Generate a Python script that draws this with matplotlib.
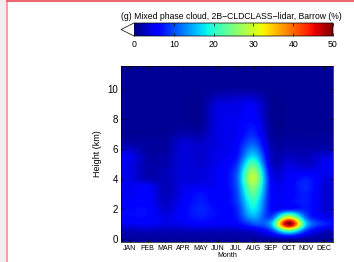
import numpy as np
import matplotlib
matplotlib.use("Agg")
import matplotlib.pyplot as plt
from matplotlib.patches import Rectangle
from matplotlib.lines import Line2D

plt.rcParams['font.family'] = ['Liberation Sans', 'DejaVu Sans']

months = ['JAN', 'FEB', 'MAR', 'APR', 'MAY', 'JUN',
          'JUL', 'AUG', 'SEP', 'OCT', 'NOV', 'DEC']
# height levels 0 .. 11.5 km, 0.5 km step
heights = np.arange(0, 12, 0.5)

# mixed phase cloud occurrence (%) per month, one value per height level
jan = [1.5, 2.5, 5, 6.5, 6.5, 5.5, 5, 5, 4.5, 4.5, 4.5, 5, 3, 1.5, 1, 1, 1, 1, 1, 1, 1, 1, 1, 1]
feb = [1.5, 2.5, 5.5, 6.5, 6.5, 6, 6, 5.5, 2.5, 2, 2, 2, 1.5, 1.5, 1, 1, 1, 1, 1, 1, 1, 1, 1, 1]
mar = [1.5, 2.5, 4.5, 4.5, 3.5, 3, 2.5, 2.5, 2.5, 2.5, 2, 2, 1.5, 1.5, 1, 1, 1, 1, 1, 1, 1, 1, 1, 1]
apr = [1.5, 2.5, 5, 6, 6, 5.5, 5, 4.5, 4, 4, 4, 4, 4, 3.5, 2, 1.2, 1, 1, 1, 1, 1, 1, 1, 1]
may = [1.5, 2.5, 6, 7.5, 8, 7.5, 7, 5, 4, 4, 3.5, 3.5, 3.5, 3, 2, 1.2, 1, 1, 1, 1, 1, 1, 1, 1]
jun = [1.5, 2.5, 5.5, 6.5, 6.5, 6, 5.5, 5.5, 5.5, 5.5, 5, 5, 4.5, 4.5, 4.5, 4.5, 4.5, 4.5, 4, 2.5, 1.2, 1, 1, 1]
jul = [1.5, 2.5, 6, 7, 7.5, 8.5, 9, 9.5, 10, 9.5, 8, 6.5, 6, 5.5, 5, 5, 5, 4.5, 4.5, 3, 1.3, 1, 1, 1]
aug = [1.5, 3.5, 10, 15, 18, 20, 23, 26, 29, 27, 22, 17, 13, 10, 8, 7, 6, 5.5, 5, 3, 1.3, 1, 1, 1]
sep = [1.5, 8, 15, 9, 6.5, 6.5, 6.5, 6.5, 6, 5, 3.5, 3, 2.5, 2, 1.5, 1.2, 1, 1, 1, 1, 1, 1, 1, 1]
octo = [2, 20, 50, 28, 7, 6.5, 6, 6, 5.5, 5, 4, 3, 2, 1.5, 1.2, 1, 1, 1, 1, 1, 1, 1, 1, 1]
nov = [1.5, 8, 16, 10, 7.5, 7.5, 7.5, 8, 7.5, 5, 3, 2.5, 2, 1.5, 1.2, 1, 1, 1, 1, 1, 1, 1, 1, 1]
dec = [1.5, 3, 8, 5, 4, 4, 4, 4, 4.5, 5, 5, 4, 2, 1.5, 1.2, 1, 1, 1, 1, 1, 1, 1, 1, 1]

data = np.array([jan, feb, mar, apr, may, jun, jul, aug, sep, octo, nov, dec]).T

cmap = plt.get_cmap('jet').copy()
cmap.set_under('white')

fig = plt.figure(figsize=(3.54, 2.62), dpi=100)

# screenshot frame bits
fig.add_artist(Rectangle((0, 0), 6 / 354, 1, transform=fig.transFigure,
                         facecolor='#efefef', edgecolor='none'))
fig.add_artist(Line2D([6.5 / 354, 6.5 / 354], [0, 1], transform=fig.transFigure,
                      color='#f4a0a4', lw=1.5))
fig.add_artist(Line2D([6.5 / 354, 1], [1 - 0.8 / 262, 1 - 0.8 / 262],
                      transform=fig.transFigure, color='#ee6670', lw=1.5))

ax = fig.add_axes([121 / 354, 20 / 262, 212 / 354, 176 / 262])
im = ax.imshow(np.clip(data, 0.01, None), origin='lower', aspect='auto', cmap=cmap,
               vmin=0, vmax=50,
               extent=(0.5, 12.5, heights[0] - 0.25, heights[-1] + 0.25),
               interpolation='catrom', interpolation_stage='data')
ax.set_xlim(0.5, 12.5)
ax.set_ylim(-0.2, 11.5)
ax.set_xticks(np.arange(1, 13))
ax.set_xticklabels(months, fontsize=5)
ax.set_yticks([0, 2, 4, 6, 8, 10])
ax.tick_params(axis='y', labelsize=7, pad=2)
ax.tick_params(axis='x', pad=2)
ax.tick_params(direction='in', length=2, width=0.5, top=True, right=True)
ax.set_xlabel('Month', fontsize=5, labelpad=0.5)
ax.set_ylabel('Height (km)', fontsize=6.5, labelpad=4)
for s in ax.spines.values():
    s.set_linewidth(0.5)

cax = fig.add_axes([121 / 354, 226 / 262, 212 / 354, 13 / 262])
cb = fig.colorbar(im, cax=cax, orientation='horizontal', extend='min',
                  extendfrac=13 / 199)
cb.set_ticks([0, 10, 20, 30, 40, 50])
cb.ax.tick_params(labelsize=6.3, direction='in', length=2, width=0.5, top=True, pad=3)
cb.outline.set_linewidth(0.5)

fig.text(231.5 / 354, 243 / 262, '(g) Mixed phase cloud, 2B\u2212CLDCLASS\u2212lidar, Barrow (%)',
         fontsize=6.2, ha='center', va='baseline')

fig.savefig('out.png', dpi=100)
